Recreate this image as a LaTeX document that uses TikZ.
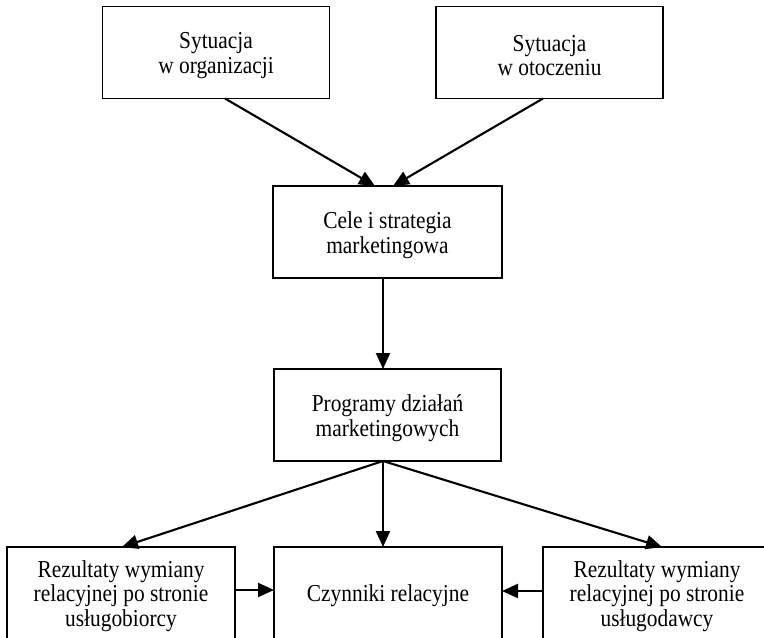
\documentclass[tikz,border=0pt]{standalone}
\usepackage{fontspec}
\setmainfont[FakeStretch=0.88]{Liberation Serif}
\usetikzlibrary{arrows.meta,calc}
\begin{document}
\begin{tikzpicture}[x=1pt,y=-1pt,
  box/.style={draw,line width=1.5pt,minimum width=227pt,minimum height=92pt,
    inner sep=0pt,outer sep=0pt},
  lowbox/.style={box,minimum width=228pt,minimum height=96pt},
  txt/.style={inner sep=0pt,align=center,font=\fontsize{24.3}{24.5}\selectfont},
  arr/.style={line width=2.1pt,-{Triangle[length=16pt,width=14pt]}}]
\useasboundingbox (0,0) rectangle (764,638);
\clip (0,0) rectangle (764,638);
\node[box] (org) at (216,52.5) {};
\node[box] (oto) at (549.5,52.5) {};
\node[box,minimum width=229pt] (cele) at (387.5,232) {};
\node[box] (prog) at (387.5,415) {};
\node[lowbox] (left) at (121,595) {};
\node[lowbox] (czyn) at (388,595) {};
\node[lowbox] (right) at (657,595) {};
\node[txt] (orgT) at ($(org)+(0,3)$) {Sytuacja\\w organizacji};
\node[txt] (otoT) at ($(oto)+(0,3)$) {Sytuacja\\w otoczeniu};
\node[txt] (celeT) at ($(cele)+(0,3)$) {Cele i strategia\\marketingowa};
\node[txt] (progT) at ($(prog)+(0,3)$) {Programy działań\\marketingowych};
\node[txt] (leftT) at ($(left)+(0,1)$) {Rezultaty wymiany\\relacyjnej po stronie\\usługobiorcy};
\node[txt] (czynT) at ($(czyn)+(0,1)$) {Czynniki relacyjne};
\node[txt] (rightT) at ($(right)+(0,1)$) {Rezultaty wymiany\\relacyjnej po stronie\\usługodawcy};
\draw[arr] ($(org.south)+(9,0)$) -- ($(cele.north)+(-12.5,0)$);
\draw[arr] ($(oto.south)+(-6.5,0)$) -- ($(cele.north)+(5.5,0)$);
\draw[arr] ($(cele.south)+(-4.5,0)$) -- ($(prog.north)+(-4.5,0)$);
\draw[arr] ($(prog.south)+(-4.5,0)$) -- ($(left.north)+(1,0)$);
\draw[arr] ($(prog.south)+(-4.5,0)$) -- ($(czyn.north)+(-5,0)$);
\draw[arr] ($(prog.south)+(-4.5,0)$) -- ($(right.north)+(5,0)$);
\draw[arr] ($(left.east)+(0,-5)$) -- ($(czyn.west)+(0,-5)$);
\draw[arr] ($(right.west)+(0,-4)$) -- ($(czyn.east)+(0,-4)$);
\end{tikzpicture}
\end{document}
